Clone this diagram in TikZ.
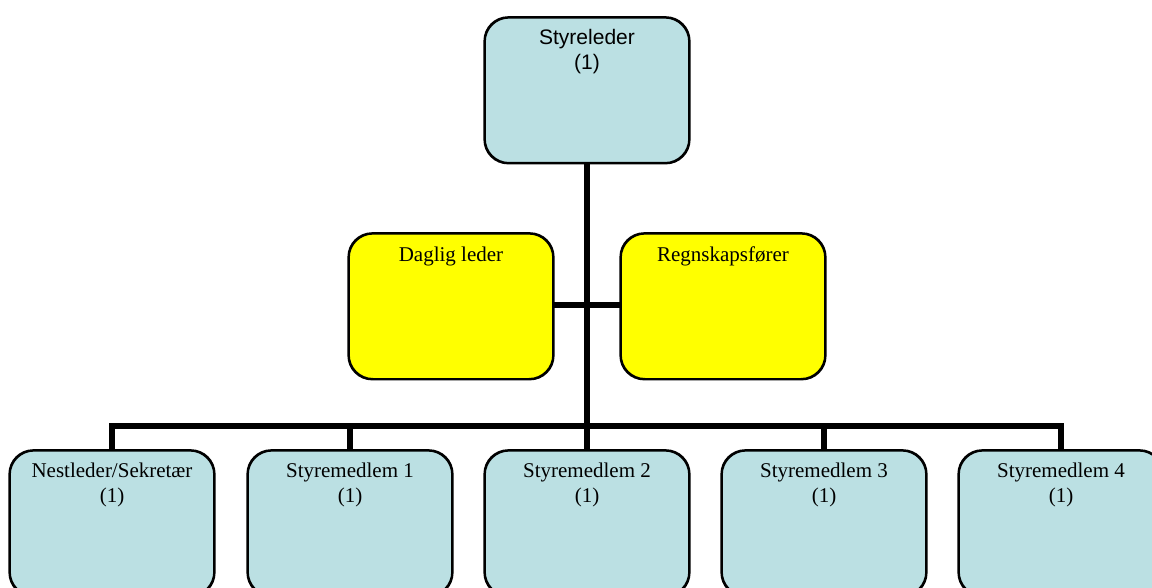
\documentclass[tikz,border=0pt]{standalone}
\usepackage{fontspec}
\setmainfont{Liberation Serif}
\newfontfamily\arialfont{Liberation Sans}
\definecolor{boxblue}{HTML}{BBE0E3}
\definecolor{boxyellow}{HTML}{FFFF00}
\begin{document}
\begin{tikzpicture}[x=1pt,y=-1pt,
  orgbox/.style={draw=black, line width=1.6pt, rounded corners=24pt,
    minimum width=204pt, minimum height=145pt, inner sep=0pt, anchor=north},
  bluebox/.style={orgbox, fill=boxblue},
  yellowbox/.style={orgbox, fill=boxyellow},
  boxtext/.style={anchor=north, inner sep=0pt, align=center,
    font=\fontsize{21}{25}\selectfont},
  conn/.style={line width=6pt, draw=black}]
\useasboundingbox (0,0) rectangle (1152,588);
\begin{scope}
\clip (0,0) rectangle (1152,588);
\coordinate (bus) at (587,426);
\coordinate (side) at (587,305);
% boxes
\node[bluebox] (top) at (587,17) {};
\node[yellowbox] (dl) at (451,233) {};
\node[yellowbox] (rf) at (723,233) {};
\node[bluebox] (b1) at (112,450) {};
\node[bluebox] (b2) at (350,450) {};
\node[bluebox] (b3) at (587,450) {};
\node[bluebox] (b4) at (824,450) {};
\node[bluebox] (b5) at (1061,450) {};
% connectors
\draw[conn] (top.south) -- (bus);
\draw[conn] (dl.east |- side) -- (rf.west |- side);
\draw[conn] (b1.north) -- (b1.north |- bus) -- (b5.north |- bus) -- (b5.north);
\draw[conn] (b2.north) -- (b2.north |- bus);
\draw[conn] (b3.north) -- (b3.north |- bus);
\draw[conn] (b4.north) -- (b4.north |- bus);
% redraw box borders over line ends
\foreach \n in {top,dl,rf,b1,b2,b3,b4,b5}{
  \draw[line width=1.6pt, rounded corners=24pt] (\n.north west) rectangle (\n.south east);
}
% texts
\node[boxtext, font=\arialfont\fontsize{21}{25}\selectfont] (ttop) at ([yshift=-12pt]top.north) {Styreleder\\(1)};
\node[boxtext] (tdl) at ([yshift=-14pt]dl.north) {Daglig leder};
\node[boxtext] (trf) at ([yshift=-14pt]rf.north) {Regnskapsfører};
\node[boxtext] (tb1) at ([yshift=-13pt]b1.north) {Nestleder/Sekretær\\(1)};
\node[boxtext] (tb2) at ([yshift=-13pt]b2.north) {Styremedlem 1\\(1)};
\node[boxtext] (tb3) at ([yshift=-13pt]b3.north) {Styremedlem 2\\(1)};
\node[boxtext] (tb4) at ([yshift=-13pt]b4.north) {Styremedlem 3\\(1)};
\node[boxtext] (tb5) at ([yshift=-13pt]b5.north) {Styremedlem 4\\(1)};
\end{scope}
\end{tikzpicture}
\end{document}
